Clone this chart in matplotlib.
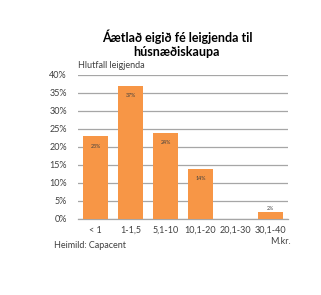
import matplotlib.pyplot as plt
import numpy as np

categories = ['< 1', '1-1,5', '5,1-10', '10,1-20', '20,1-30', '30,1-40']
values = [23, 37, 24, 14, 0, 2]
yticks = [0, 5, 10, 15, 20, 25, 30, 35, 40]

BAR_COLOR = '#F79646'
GRID_COLOR = '#A6A6A6'
TXT = '#404040'

plt.rcParams['font.family'] = ['Lato', 'DejaVu Sans']

fig = plt.figure(figsize=(3.21, 2.95), dpi=100)
ax = fig.add_axes([78/321, 1 - 219/295, 210/321, 144/295])

x = np.arange(len(categories))
ax.bar(x, values, width=0.69, color=BAR_COLOR, zorder=3)
ax.set_xlim(-0.5, len(categories) - 0.5)
ax.set_ylim(0, 40)
ax.set_yticks(yticks)
ax.set_yticklabels([f'{v}%' for v in yticks], fontsize=6.5, color=TXT)
ax.set_xticks(x)
ax.set_xticklabels(categories, fontsize=6.5, color=TXT)
ax.tick_params(length=0, pad=5)
ax.tick_params(axis='y', pad=8)
ax.yaxis.grid(True, color=GRID_COLOR, linewidth=0.9, zorder=0)
for s in ['top', 'right', 'left']:
    ax.spines[s].set_visible(False)
ax.spines['bottom'].set_color(GRID_COLOR)
ax.spines['bottom'].set_linewidth(0.9)

# value labels
for xi, v in zip(x, values):
    if v == 0:
        continue
    if v > 5:
        ax.text(xi, v - 2.8, f'{v}%', ha='center', va='center', fontsize=3.8, color=TXT, zorder=4)
    else:
        ax.text(xi, v + 0.9, f'{v}%', ha='center', va='center', fontsize=3.8, color=TXT, zorder=4)

fig.text(177/321, 1 - 43.5/295, 'Áætlað eigið fé leigjenda til\nhúsnæðiskaupa', ha='center', va='center',
         fontsize=9, fontweight='bold', linespacing=1.25, color='black')
fig.text(78/321, 1 - 65/295, 'Hlutfall leigjenda', ha='left', va='center', fontsize=6.5, color=TXT)
fig.text(54/321, 1 - 245/295, 'Heimild: Capacent', ha='left', va='center', fontsize=6.5, color=TXT)
fig.text(291/321, 1 - 242/295, 'M.kr.', ha='right', va='center', fontsize=6.5, color=TXT)

fig.savefig('out.png', dpi=100)
